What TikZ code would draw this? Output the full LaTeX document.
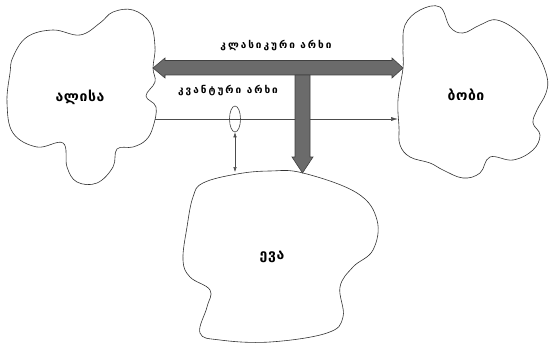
\documentclass[tikz,border=0pt]{standalone}
\usepackage{fontspec}
\usetikzlibrary{arrows.meta,shapes.geometric}
\newfontfamily\geo{DejaVu Sans}
\newfontfamily\geosp[LetterSpace=20]{DejaVu Sans}
\newfontfamily\geomid[LetterSpace=4]{DejaVu Sans}
\tikzset{
  blob/.style={draw=black!80, line width=0.6pt},
  lbl/.style={font=\geomid\bfseries\fontsize{14}{16}\selectfont, inner sep=0pt},
  chlbl/.style={font=\geosp\bfseries\fontsize{10}{12}\selectfont, inner sep=0pt},
  bigarrow/.style={fill=black!58, draw=black!75, line width=0.6pt},
  thinline/.style={draw=black!70, line width=0.5pt}
}
\begin{document}
\begin{tikzpicture}[x=1pt,y=-1pt]
\useasboundingbox (0,0) rectangle (549,345);
% Alice
\draw[blob] plot[smooth cycle, tension=0.65] coordinates {
 (10,73) (13,57) (27,37) (53,30) (80,35) (100,23) (113,12) (133,10) (150,23)
 (155,47) (153,68) (155,82) (146,96) (156,107) (153,127) (146,140) (133,147)
 (117,149) (113,167) (97,183) (77,182) (67,167) (63,143) (37,147) (13,133) (7,103)};
% Bob
\draw[blob] plot[smooth cycle, tension=0.65] coordinates {
 (405,25) (420,10) (440,7) (450,27) (463,33) (480,25) (497,20) (520,33)
 (537,53) (547,77) (546,93) (537,110) (533,123) (540,135) (533,150) (513,160)
 (490,157) (480,173) (463,178) (443,170) (430,163) (410,157) (400,145)
 (399,127) (398,100) (403,68) (403,48)};
% Eve
\draw[blob] plot[smooth cycle, tension=0.65] coordinates {
 (203,183) (237,174) (270,171) (303,173) (357,193) (377,220) (373,250)
 (353,267) (340,287) (343,317) (327,333) (270,342) (220,340) (200,333)
 (207,307) (210,290) (190,277) (183,260) (187,227) (193,197)};
% labels
\node[lbl] (alice) at (80,97) {ალისა};
\node[lbl] (bob) at (466,95) {ბობი};
\node[lbl] (eve) at (272,257) {ევა};
\node[chlbl] (cl) at (276,46) {კლასიკური არხი};
\node[chlbl] (qu) at (228,91) {კვანტური არხი};
% named endpoints
\coordinate (aC) at (153,68);
\coordinate (bC) at (403,68);
\coordinate (eC) at (302.5,173);
\coordinate (aQ) at (155,119);
\coordinate (bQ) at (398,119);
\coordinate (eQ) at (235,172);
% thin quantum line
\draw[thinline, -{Latex[length=7pt,width=4pt]}] (aQ) -- (bQ);
% photon ellipse
\node[draw=black!75, line width=0.6pt, ellipse, minimum width=11pt, minimum height=26pt, inner sep=0pt] (ph) at (235,119) {};
\draw[thinline, {Latex[length=5pt,width=3.5pt]}-{Latex[length=5pt,width=3.5pt]}] (ph.south) -- (eQ);
% classical double arrow (horizontal)
\path[bigarrow] (aC) -- ++(12,-10) -- ++(0,2.5) -- (392,60.5) -- (392,58) -- (bC)
  -- (392,78) -- (392,75) -- (165,75) -- (165,78) -- cycle;
% stem down to Eve
\path[bigarrow] (295,75) -- (310,75) -- (310,157) -- (313,157) -- (eC) -- (292,157) -- (295,157) -- cycle;
\end{tikzpicture}
\end{document}
